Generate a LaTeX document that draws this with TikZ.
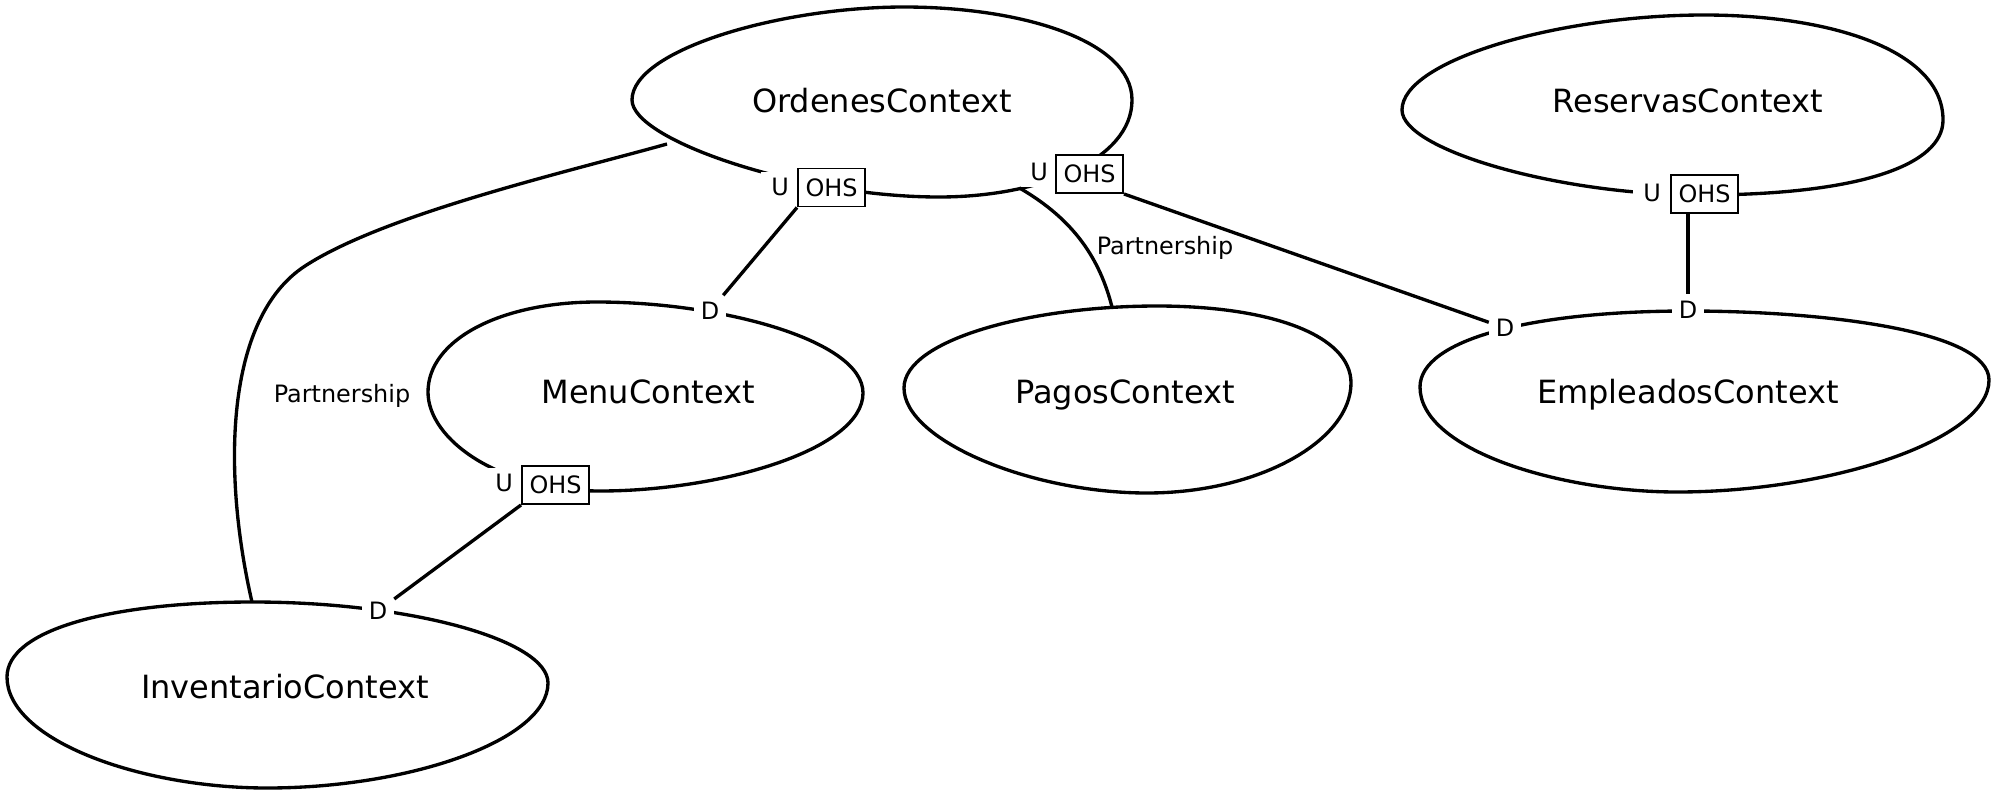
\documentclass[tikz,border=0pt]{standalone}
\usepackage{fontspec}
\setmainfont{DejaVu Sans}
\begin{document}
\begin{tikzpicture}[x=0.01cm,y=-0.01cm,
  blob/.style={line width=0.95pt, line join=round},
  ctx/.style={font=\fontsize{9.1}{11}\selectfont, anchor=base, inner sep=0pt},
  lbl/.style={font=\fontsize{6.8}{8}\selectfont, fill=white, inner sep=1.8pt},
  ulbl/.style={lbl, inner xsep=2.9pt},
  ohsbox/.style={draw, line width=0.55pt, fill=white, font=\fontsize{6.8}{8}\selectfont, minimum width=0.67cm, minimum height=0.38cm, inner sep=0pt},
  plab/.style={font=\fontsize{6.8}{8}\selectfont, anchor=base, inner sep=0pt},
  conn/.style={line width=0.95pt}]
\useasboundingbox (0,0) rectangle (2000,797);

% context blobs
\draw[blob] (632,100) .. controls (632,140) and (800,197) .. (939,197)
  .. controls (1040,197) and (1132,160) .. (1132,100)
  .. controls (1132,40) and (1020,7) .. (904,7)
  .. controls (780,7) and (632,50) .. (632,100) -- cycle;
\draw[blob] (1402,110) .. controls (1402,150) and (1560,195) .. (1700,195)
  .. controls (1860,195) and (1943,165) .. (1943,120)
  .. controls (1943,50) and (1830,15) .. (1704,15)
  .. controls (1560,15) and (1402,60) .. (1402,110) -- cycle;
\draw[blob] (1420,387) .. controls (1420,450) and (1560,492) .. (1677,492)
  .. controls (1830,492) and (1989,440) .. (1989,380)
  .. controls (1989,330) and (1820,311) .. (1688,311)
  .. controls (1530,311) and (1420,340) .. (1420,387) -- cycle;
\draw[blob] (904,388) .. controls (904,440) and (1030,493) .. (1147,493)
  .. controls (1260,493) and (1351,440) .. (1351,383)
  .. controls (1351,335) and (1270,306) .. (1157,306)
  .. controls (1030,306) and (904,340) .. (904,388) -- cycle;
\draw[blob] (428,392) .. controls (428,440) and (500,491) .. (600,491)
  .. controls (720,491) and (863,450) .. (863,393)
  .. controls (863,340) and (720,302) .. (597,302)
  .. controls (500,302) and (428,340) .. (428,392) -- cycle;
\draw[blob] (7,677) .. controls (7,740) and (140,788) .. (267,788)
  .. controls (410,788) and (548,740) .. (548,683)
  .. controls (548,640) and (410,602) .. (253,602)
  .. controls (110,602) and (7,630) .. (7,677) -- cycle;

% context names
\node[ctx] (ordenes) at (882,112) {OrdenesContext};
\node[ctx] (reservas) at (1688,112) {ReservasContext};
\node[ctx] (empleados) at (1688,403) {EmpleadosContext};
\node[ctx] (pagos) at (1125,403) {PagosContext};
\node[ctx] (menu) at (648,403) {MenuContext};
\node[ctx] (inventario) at (285,698) {InventarioContext};

% upstream labels
\node[ulbl] (uO1) at (780,187) {U};
\node[ohsbox] (ohsO1) at (831.5,187.5) {OHS};
\node[ulbl] (uO2) at (1039,172) {U};
\node[ohsbox] (ohsO2) at (1089.5,174) {OHS};
\node[ulbl] (uR) at (1652,193) {U};
\node[ohsbox] (ohsR) at (1704.5,194) {OHS};
\node[ulbl] (uM) at (504,483) {U};
\node[ohsbox] (ohsM) at (555.5,485) {OHS};

% downstream labels
\node[lbl] (dM) at (710,311) {D};
\node[lbl] (dI) at (378,611) {D};
\node[lbl] (dE1) at (1505,328) {D};
\node[lbl] (dE2) at (1688,310) {D};

% free ends on the blobs
\coordinate (oLeft) at (667,144);
\coordinate (iTop) at (252,602);
\coordinate (pTop) at (1112,307);

% connectors
\draw[conn] (oLeft) .. controls (567,172) and (385,214) .. (305,266) .. controls (225,318) and (222,472) .. (iTop);
\node[plab] (p1) at (342,402) {Partnership};
\draw[conn] (uO2.south west) .. controls (1075,220) and (1100,260) .. (pTop);
\node[plab] (p2) at (1165,254) {Partnership};
\draw[conn] (ohsO1.south west) -- (dM);
\draw[conn] (ohsO2.south east) -- (dE1);
\draw[conn] (dE2 |- ohsR.south) -- (dE2);
\draw[conn] (ohsM.south west) -- (dI);
\end{tikzpicture}
\end{document}
